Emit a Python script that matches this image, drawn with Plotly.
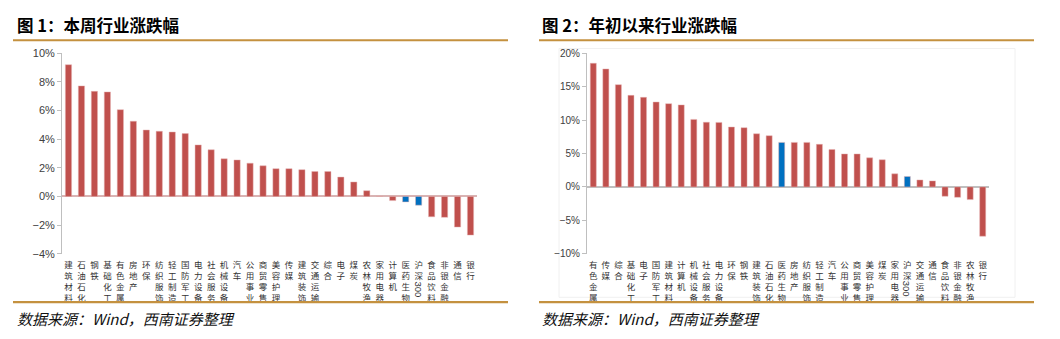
import plotly.graph_objects as go

# ---------------- data ----------------
cats1 = ["建筑材料", "石油石化", "钢铁", "基础化工", "有色金属", "房地产", "环保", "纺织服饰",
         "轻工制造", "国防军工", "电力设备", "社会服务", "机械设备", "汽车", "公用事业", "商贸零售",
         "美容护理", "传媒", "建筑装饰", "交通运输", "综合", "电子", "煤炭", "农林牧渔",
         "家用电器", "计算机", "医药生物", "沪深300", "食品饮料", "非银金融", "通信", "银行"]
vals1 = [9.2, 7.72, 7.34, 7.3, 6.06, 5.25, 4.64, 4.55,
         4.5, 4.39, 3.6, 3.26, 2.63, 2.55, 2.32, 2.14,
         1.94, 1.94, 1.87, 1.74, 1.74, 1.35, 1.01, 0.4,
         0.02, -0.29, -0.38, -0.61, -1.42, -1.46, -2.14, -2.7]

cats2 = ["有色金属", "传媒", "综合", "基础化工", "电子", "国防军工", "建筑材料", "计算机",
         "机械设备", "社会服务", "电力设备", "环保", "钢铁", "建筑装饰", "石油石化", "医药生物",
         "房地产", "纺织服饰", "轻工制造", "汽车", "公用事业", "商贸零售", "美容护理", "煤炭",
         "家用电器", "沪深300", "交通运输", "通信", "食品饮料", "非银金融", "农林牧渔", "银行"]
vals2 = [18.5, 17.65, 15.3, 13.7, 13.4, 12.7, 12.46, 12.27,
         10.1, 9.68, 9.65, 8.96, 8.86, 7.95, 7.66, 6.66,
         6.66, 6.66, 6.37, 5.6, 4.93, 4.93, 4.35, 4.06,
         1.95, 1.56, 1.04, 0.9, -1.4, -1.56, -1.9, -7.38]

highlight = ["医药生物", "沪深300"]
title1 = "图 1：本周行业涨跌幅"
title2 = "图 2：年初以来行业涨跌幅"
source = "数据来源：Wind，西南证券整理"

RED = "#C0504D"
BLUE = "#0070C0"
GOLD = "#C4913F"

W, H = 1060, 339
CAT_SIZE = 8.5
LINE_H = CAT_SIZE * 1.3


def stack(s):
    if s.endswith("300"):
        return "<br>".join(s[:-3])
    return "<br>".join(s)


def px(x):
    return x / W


def py(y):
    return 1 - y / H


fig = go.Figure()

annots = []
for i, (cats, vals) in enumerate([(cats1, vals1), (cats2, vals2)]):
    suffix = "" if i == 0 else "2"
    colors = [BLUE if c in highlight else RED for c in cats]
    fig.add_trace(go.Bar(
        x=list(range(len(cats))), y=vals,
        marker=dict(color=colors, line=dict(color="rgba(230,180,180,0.6)", width=0.8)),
        xaxis="x" + suffix, yaxis="y" + suffix, showlegend=False,
    ))
    # rotated "300" under 沪深
    for k, c in enumerate(cats):
        if c.endswith("300"):
            annots.append(dict(text="300", textangle=90, x=k, xref="x" + suffix,
                               y=py(261 + 2 * LINE_H), yref="paper", yanchor="top",
                               xanchor="center", showarrow=False,
                               font=dict(family="Liberation Sans, Arial", size=9.5, color="#333333")))

ytop, ybot = py(49), py(256.8)
tickfont = dict(family="Liberation Sans, Arial", size=11, color="#404040")
catfont = dict(family="Noto Sans CJK SC", size=CAT_SIZE, color="#333333")

fig.update_layout(
    width=W, height=H,
    margin=dict(l=0, r=0, t=0, b=0),
    paper_bgcolor="white", plot_bgcolor="white",
    bargap=0.52,
    xaxis=dict(domain=[px(62), px(477)], range=[-0.5, 31.5],
               tickmode="array", tickvals=list(range(len(cats1))),
               ticktext=[stack(c) for c in cats1], tickfont=catfont, ticklabelstandoff=5,
               showgrid=False, zeroline=False, showline=False, ticks="", anchor="y"),
    yaxis=dict(domain=[ybot, ytop], range=[-4, 10], dtick=2, ticksuffix="%",
               tickfont=tickfont, showgrid=False, showline=True, linecolor="#BFBFBF",
               linewidth=1, ticks="outside", ticklen=4, tickcolor="#BFBFBF",
               zeroline=True, zerolinecolor="#D9B3B3", zerolinewidth=1.5, anchor="x"),
    xaxis2=dict(domain=[px(587), px(989)], range=[-0.5, 31.5],
                tickmode="array", tickvals=list(range(len(cats2))),
                ticktext=[stack(c) for c in cats2], tickfont=catfont, ticklabelstandoff=5,
                showgrid=False, zeroline=False, showline=False, ticks="", anchor="y2"),
    yaxis2=dict(domain=[ybot, ytop], range=[-10, 20], dtick=5, ticksuffix="%",
                tickfont=dict(family="Liberation Sans, Arial", size=10, color="#404040"),
                showgrid=False, showline=True, linecolor="#BFBFBF",
                linewidth=1, ticks="outside", ticklen=4, tickcolor="#BFBFBF",
                zeroline=True, zerolinecolor="#BFBFBF", zerolinewidth=1.5, anchor="x2"),
)

shapes = []
for x0, x1 in [(13, 508), (539, 1034)]:
    shapes.append(dict(type="line", xref="paper", yref="paper",
                       x0=px(x0), x1=px(x1), y0=py(35.5), y1=py(35.5),
                       line=dict(color=GOLD, width=2.2)))
    shapes.append(dict(type="line", xref="paper", yref="paper",
                       x0=px(x0), x1=px(x1), y0=py(307), y1=py(307),
                       line=dict(color=GOLD, width=2.2)))
shapes.append(dict(type="rect", xref="paper", yref="paper",
                   x0=px(559), x1=px(1015), y0=py(302), y1=py(44),
                   line=dict(color="#F0F0F0", width=1), layer="below"))
fig.update_layout(shapes=shapes)

for x0, t in [(15, title1), (540, title2)]:
    annots.append(dict(text="<b>" + t + "</b>", x=px(x0), y=py(20), xref="paper", yref="paper",
                       xanchor="left", yanchor="middle", showarrow=False,
                       font=dict(family="Noto Sans CJK SC", size=16.5, color="#000000")))
    annots.append(dict(text="<i>" + source + "</i>", x=px(x0), y=py(324), xref="paper", yref="paper",
                       xanchor="left", yanchor="middle", showarrow=False,
                       font=dict(family="Noto Sans CJK SC", size=15, color="#111111")))
fig.update_layout(annotations=annots)

fig.write_html("out.html")
